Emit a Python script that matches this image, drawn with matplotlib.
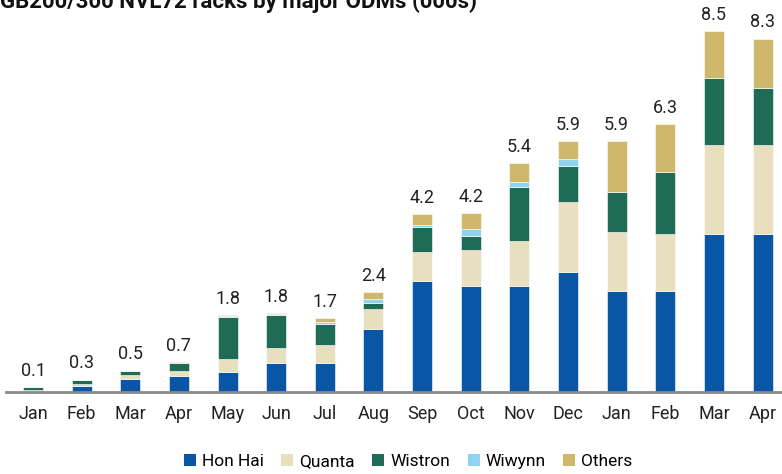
import numpy as np
import matplotlib
matplotlib.use("Agg")
import matplotlib.pyplot as plt
from matplotlib.patches import Patch

plt.rcParams["font.family"] = ["Roboto", "DejaVu Sans"]

# ---- data (000s racks) ----
months = ["Jan", "Feb", "Mar", "Apr", "May", "Jun", "Jul", "Aug",
          "Sep", "Oct", "Nov", "Dec", "Jan", "Feb", "Mar", "Apr"]
hon_hai = [0.02, 0.12, 0.29, 0.36, 0.47, 0.66, 0.66, 1.47,
           2.61, 2.48, 2.48, 2.80, 2.37, 2.37, 3.71, 3.71]
quanta = [0.02, 0.05, 0.09, 0.12, 0.30, 0.37, 0.43, 0.46,
          0.67, 0.86, 1.07, 1.65, 1.39, 1.33, 2.10, 2.10]
wistron = [0.06, 0.10, 0.10, 0.19, 0.98, 0.77, 0.50, 0.16,
           0.59, 0.33, 1.26, 0.86, 0.94, 1.47, 1.56, 1.34]
wiwynn = [0.0, 0.0, 0.0, 0.0, 0.02, 0.02, 0.05, 0.08,
          0.04, 0.15, 0.11, 0.15, 0.0, 0.0, 0.0, 0.0]
others = [0.0, 0.01, 0.01, 0.02, 0.03, 0.02, 0.08, 0.17,
          0.27, 0.37, 0.46, 0.43, 1.19, 1.12, 1.11, 1.15]
totals = ["0.1", "0.3", "0.5", "0.7", "1.8", "1.8", "1.7", "2.4",
          "4.2", "4.2", "5.4", "5.9", "5.9", "6.3", "8.5", "8.3"]

series = [
    ("Hon Hai", hon_hai, "#0a56a6"),
    ("Quanta", quanta, "#e8dfbf"),
    ("Wistron", wistron, "#1f6b55"),
    ("Wiwynn", wiwynn, "#8fd3ef"),
    ("Others", others, "#cfb76c"),
]

fig = plt.figure(figsize=(7.82, 4.74), dpi=100)
ax = fig.add_axes([0.008, 0.174, 0.992, 0.826])

x = np.arange(len(months))
bottom = np.zeros(len(months))
for name, vals, color in series:
    vals = np.array(vals)
    ax.bar(x, vals, width=0.41, bottom=bottom, color=color,
           edgecolor="white", linewidth=0.4, label=name, zorder=2)
    bottom += vals

for xi, top, lab in zip(x, bottom, totals):
    ax.text(xi, top + 0.17, lab, ha="center", va="bottom",
            fontsize=13, color="#222222")

ax.set_xlim(-0.55, 15.4)
ax.set_ylim(0, 9.21)
ax.set_xticks(x)
ax.set_xticklabels(months, fontsize=13, color="#222222")
ax.tick_params(axis="x", length=0, pad=10)
ax.set_yticks([])
for side in ["top", "right", "left"]:
    ax.spines[side].set_visible(False)
ax.spines["bottom"].set_color("#8a8a8a")
ax.spines["bottom"].set_linewidth(2)

fig.text(0.0, 1.0 - 8 / 474, "GB200/300 NVL72 racks by major ODMs (000s)",
         ha="left", va="baseline", fontsize=16, fontweight="bold",
         color="#111111")

handles = [Patch(facecolor=c, edgecolor="none", label=n) for n, _, c in series]
fig.legend(handles=handles, loc="center", bbox_to_anchor=(0.522, 0.027),
           ncol=5, frameon=False, fontsize=12.5, handlelength=0.7,
           handleheight=0.7, handletextpad=0.35, columnspacing=1.0)

fig.savefig("out.png", dpi=100)
